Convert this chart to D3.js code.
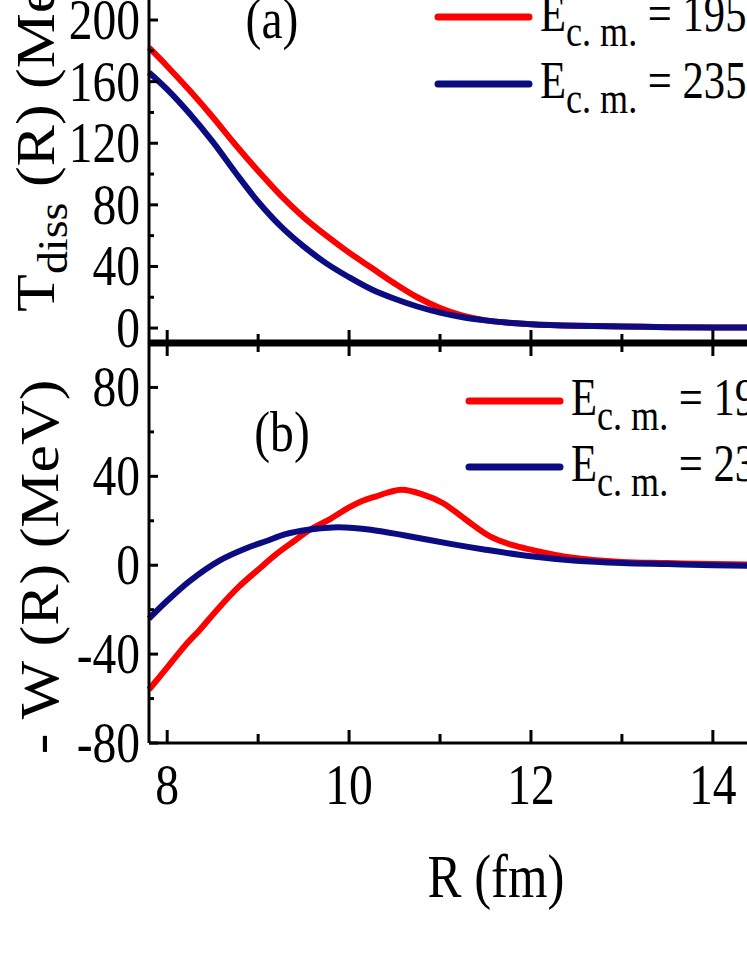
<!DOCTYPE html>
<html><head><meta charset="utf-8">
<script src="https://cdn.jsdelivr.net/npm/d3@7"></script>
<style>body{margin:0;background:#fff}svg{display:block}svg text{font-family:"Times New Roman","Liberation Serif","DejaVu Serif",serif}</style>
</head><body>
<script>
// R values (fm) and curves
const rA = [7.8, 8, 8.25, 8.5, 8.75, 9, 9.25, 9.5, 9.75, 10, 10.25, 10.5, 10.75, 11, 11.25, 11.5, 11.75, 12, 12.5, 13, 13.5, 14, 14.5, 15];
const tRed = [182, 170, 154, 137, 119, 102, 86, 72, 60, 49, 39, 29, 20, 13, 8, 5, 3.5, 2.5, 1.5, 1, 0.6, 0.4, 0.3, 0.2];
const tBlue = [166, 155, 139, 121, 101, 82, 66, 53, 42, 33, 25, 19, 14, 10, 7, 5, 3.5, 2.5, 1.5, 1, 0.6, 0.4, 0.3, 0.2];
const rBRed = [7.8, 7.9, 8.04, 8.2, 8.36, 8.55, 8.78, 9, 9.2, 9.4, 9.57, 9.8, 10, 10.15, 10.3, 10.45, 10.58, 10.8, 11.03, 11.3, 11.55, 11.8, 12, 12.44, 13, 13.5, 14, 15];
const wRed = [-56, -51, -44, -36, -29, -20, -10, -2, 5, 11, 16, 21, 26, 29, 31, 33, 34, 32, 28, 20, 13, 9, 7, 3.5, 1.5, 1, 0.5, 0];
const rBBlue = [7.8, 8, 8.25, 8.57, 8.89, 9.1, 9.3, 9.55, 9.82, 10.05, 10.24, 10.6, 11.13, 11.5, 12, 12.5, 13, 13.5, 14, 15];
const wBlue = [-24, -16, -7, 2, 8, 11, 14, 16, 17, 16.8, 16, 13.5, 9.5, 7, 4, 2, 1, 0.5, 0, -0.5];
const xTicks = [8, 10, 12, 14];
const yTicksA = [0, 40, 80, 120, 160, 200];
const yTicksB = [-80, -40, 0, 40, 80];
const legendA = ["195", "235"];

const W = 747, H = 967, SX = 0.82;
const svg = d3.select("body").append("svg").attr("width", W).attr("height", H);
const x = d3.scaleLinear().domain([7.8, 15.2]).range([149, 822]);
const yA = d3.scaleLinear().domain([-9.7, 213]).range([343, 0]);
const yB = d3.scaleLinear().domain([-80, 100]).range([743, 343]);
const red = "#ff0000", blue = "#0c0c82";

function txt(px, py, s, size, anchor) {
  return svg.append("text").attr("transform", `translate(${px},${py}) scale(${SX},1)`)
    .attr("font-size", size).attr("text-anchor", anchor || "start").text(s);
}

const line = (xs, ys, yS) => d3.line().curve(d3.curveCatmullRom).x((d, i) => x(xs[i])).y(d => yS(d))(ys);
svg.append("path").attr("d", line(rA, tRed, yA)).attr("fill", "none").attr("stroke", red).attr("stroke-width", 6);
svg.append("path").attr("d", line(rA, tBlue, yA)).attr("fill", "none").attr("stroke", blue).attr("stroke-width", 6);
svg.append("path").attr("d", line(rBRed, wRed, yB)).attr("fill", "none").attr("stroke", red).attr("stroke-width", 6);
svg.append("path").attr("d", line(rBBlue, wBlue, yB)).attr("fill", "none").attr("stroke", blue).attr("stroke-width", 6);

// frames
svg.append("line").attr("x1", 149).attr("x2", 149).attr("y1", 0).attr("y2", 743).attr("stroke", "#000").attr("stroke-width", 3);
svg.append("line").attr("x1", 149).attr("x2", W).attr("y1", 743).attr("y2", 743).attr("stroke", "#000").attr("stroke-width", 3);
svg.append("line").attr("x1", 149).attr("x2", W).attr("y1", 343).attr("y2", 343).attr("stroke", "#000").attr("stroke-width", 7);

// x ticks (major + minor)
d3.range(8, 15.01, 1).forEach(v => {
  const len = v % 2 === 0 ? 10 : 6;
  [[743, -1], [343, -1], [343, 1]].forEach(([y0, dir]) => {
    svg.append("line").attr("x1", x(v)).attr("x2", x(v)).attr("y1", y0).attr("y2", y0 + dir * (len + 3))
      .attr("stroke", "#000").attr("stroke-width", 3);
  });
});
xTicks.forEach(v => txt(x(v), 804, v, 58, "middle"));
txt(496, 897, "R (fm)", 62, "middle");

// y ticks
d3.range(0, 201, 20).forEach(v => {
  svg.append("line").attr("x1", 149).attr("x2", 149 + (v % 40 === 0 ? 9 : 5)).attr("y1", yA(v)).attr("y2", yA(v)).attr("stroke", "#000").attr("stroke-width", 3);
});
yTicksA.forEach(v => txt(140, yA(v) + 19, v, 58, "end"));
d3.range(-80, 81, 20).forEach(v => {
  svg.append("line").attr("x1", 149).attr("x2", 149 + (v % 40 === 0 ? 9 : 5)).attr("y1", yB(v)).attr("y2", yB(v)).attr("stroke", "#000").attr("stroke-width", 3);
});
yTicksB.forEach(v => txt(140, yB(v) + 19, v, 58, "end"));

// y labels
const la = svg.append("text").attr("transform", "translate(54,312) rotate(-90) scale(1,0.9)").attr("font-size", 62);
la.append("tspan").text("T");
la.append("tspan").attr("dy", 14).attr("font-size", 46).text("diss");
la.append("tspan").attr("dy", -14).text(" (R) (MeV)");
svg.append("text").attr("transform", "translate(58,567) rotate(-90) scale(1,0.9)").attr("font-size", 62)
  .attr("text-anchor", "middle").text("- W (R) (MeV)");

// panel letters
txt(272, 38, "(a)", 58, "middle");
txt(282, 451, "(b)", 58, "middle");

// legends
function legend(x0, ys, col, label) {
  svg.append("line").attr("x1", x0).attr("x2", x0 + 91).attr("y1", ys).attr("y2", ys).attr("stroke", col).attr("stroke-width", 7).attr("stroke-linecap", "round");
  const t = svg.append("text").attr("transform", `translate(${x0 + 102},${ys + 14}) scale(${SX},1)`).attr("font-size", 52);
  t.append("tspan").text("E");
  t.append("tspan").attr("dy", 15).attr("font-size", 44).text("c. m.");
  t.append("tspan").attr("dy", -15).text(" = " + label);
}
legend(438, 17, red, legendA[0]);
legend(438, 84, blue, legendA[1]);
legend(469, 401, red, legendA[0]);
legend(469, 467, blue, legendA[1]);
</script>
</body></html>
